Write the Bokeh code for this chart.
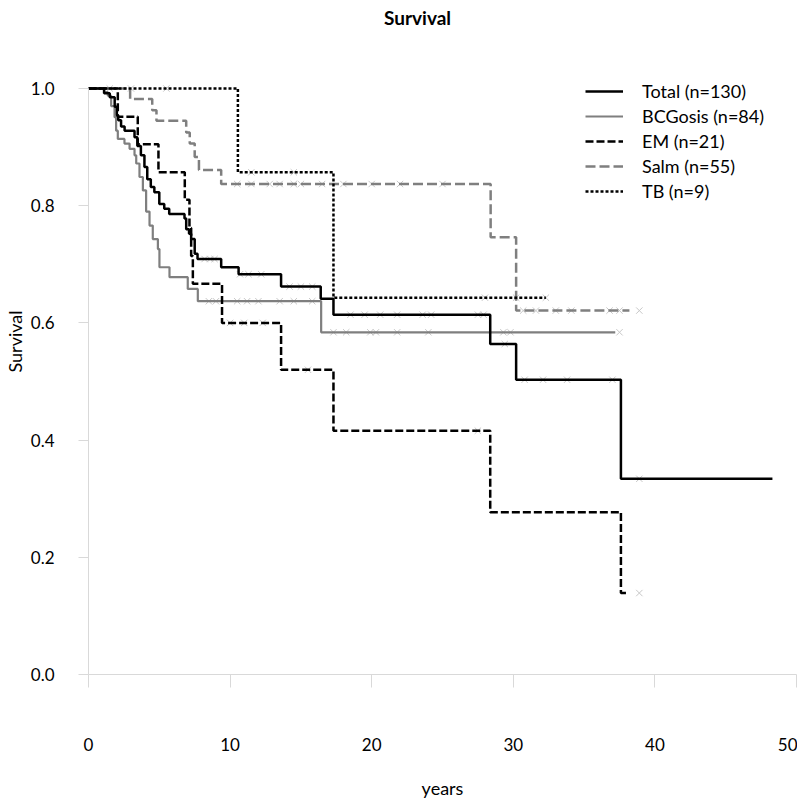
import numpy as np
from bokeh.plotting import figure
from bokeh.models import Range1d, FixedTicker, NumeralTickFormatter, Legend, LegendItem, Label
from bokeh.embed import file_html
from bokeh.resources import INLINE

FONT = "Lato"

# ---- data (years, survival) ----
series_names = ["Total (n=130)", "BCGosis (n=84)", "EM (n=21)", "Salm (n=55)", "TB (n=9)"]

total_t = [1.1, 1.5, 1.85, 2.0, 2.1, 2.3, 2.55, 3.25, 3.45, 3.7, 3.95, 4.15, 4.4, 4.65, 5.0, 5.35,
           5.7, 6.78, 6.9, 7.1, 7.25, 7.5, 7.7, 9.37, 10.6, 13.6, 16.4, 17.3, 28.37, 30.2, 37.6]
total_s = [0.992, 0.985, 0.969, 0.954, 0.946, 0.935, 0.928, 0.917, 0.902, 0.886, 0.866, 0.845, 0.832,
           0.823, 0.803, 0.795, 0.786, 0.778, 0.760, 0.752, 0.743, 0.718, 0.709, 0.695, 0.683, 0.662,
           0.641, 0.614, 0.564, 0.503, 0.334]
total_end = 48.3
total_cens = [8.2, 8.6, 8.9, 10.7, 11.3, 12.2, 14.2, 15.0, 15.8, 18.5, 19.5, 20.6, 21.8, 23.6, 24.2,
              27.5, 27.9, 29.4, 30.8, 32.1, 33.8, 37.0, 38.9]

bcg_t = [1.1, 1.36, 1.6, 1.84, 1.95, 2.07, 2.54, 2.9, 3.25, 3.37, 3.6, 3.84, 4.07, 4.31, 4.54, 4.9,
         5.01, 5.72, 7.01, 7.72, 16.43]
bcg_s = [0.994, 0.988, 0.970, 0.951, 0.928, 0.914, 0.906, 0.897, 0.886, 0.872, 0.849, 0.826, 0.790,
         0.766, 0.743, 0.726, 0.695, 0.678, 0.658, 0.637, 0.584]
bcg_end = 37.2
bcg_cens = [8.5, 9.0, 10.5, 11.2, 12.0, 13.5, 14.5, 15.8, 17.3, 18.2, 19.9, 20.3, 21.8, 24.0, 29.3,
            29.8, 37.5]

em_t = [2.07, 3.48, 4.94, 6.8, 7.13, 7.25, 7.37, 9.43, 13.6, 17.3, 28.37, 37.6]
em_s = [0.952, 0.905, 0.857, 0.810, 0.762, 0.714, 0.667, 0.600, 0.520, 0.416, 0.277, 0.139]
em_end = 38.1
em_cens = [10.0, 11.0, 12.3, 15.5, 27.5, 38.9]

salm_t = [2.94, 4.5, 4.8, 6.9, 7.15, 7.5, 7.8, 9.37, 28.4, 30.2]
salm_s = [0.982, 0.963, 0.945, 0.925, 0.906, 0.883, 0.861, 0.837, 0.746, 0.621]
salm_end = 38.2
salm_cens = [1.5, 10.5, 11.5, 12.8, 13.5, 14.5, 15.0, 16.5, 18.0, 20.0, 22.0, 25.0, 30.7, 31.6,
             33.0, 34.1, 36.8, 37.5, 38.9]

tb_t = [10.55, 17.3]
tb_s = [0.857, 0.643]
tb_end = 32.3
tb_cens = [3.0, 5.5, 11.5, 14.5, 28.0, 30.2, 32.3]

x_ticks = [0, 10, 20, 30, 40, 50]
y_ticks = [0.0, 0.2, 0.4, 0.6, 0.8, 1.0]


def step_xy(t, s, end):
    xs = [0.0] + list(t) + [end]
    ys = [1.0] + list(s) + [s[-1]]
    return xs, ys


def cens_xy(t, s, c):
    ta = np.array([0.0] + list(t))
    sa = np.array([1.0] + list(s))
    idx = np.searchsorted(ta, np.array(c), side="right") - 1
    return list(c), list(sa[idx])


PX_PER_UNIT_Y = 586
FRAME_H = 666
p = figure(frame_width=708, frame_height=FRAME_H, output_backend="svg", toolbar_location=None,
           x_range=Range1d(0, 50), y_range=Range1d(0, FRAME_H / PX_PER_UNIT_Y),
           min_border=0, min_border_left=81, min_border_right=1, min_border_top=8,
           min_border_bottom=124)
p.outline_line_color = None
p.xgrid.grid_line_color = None
p.ygrid.grid_line_color = None
p.background_fill_color = "white"
p.border_fill_color = "white"

# axes
for ax in (p.xaxis[0], p.yaxis[0]):
    ax.axis_line_color = "#d9d9d9"
    ax.major_tick_line_color = "#d9d9d9"
    ax.minor_tick_line_color = None
    ax.major_tick_in = 0
    ax.major_label_text_font = FONT
    ax.major_label_text_font_size = "17px"
    ax.major_label_text_color = "black"
    ax.axis_label_text_font = FONT
    ax.axis_label_text_font_size = "18px"
    ax.axis_label_text_font_style = "normal"
    ax.axis_label_text_color = "black"

p.xaxis.ticker = FixedTicker(ticks=x_ticks)
p.xaxis.major_tick_out = 13
p.xaxis.major_label_standoff = 50
p.xaxis.axis_label = "years"
p.xaxis.axis_label_standoff = 23

p.yaxis.ticker = FixedTicker(ticks=y_ticks)
p.yaxis.bounds = (0, 1)
p.yaxis.formatter = NumeralTickFormatter(format="0.0")
p.yaxis.major_tick_out = 10
p.yaxis.major_label_standoff = 24
p.yaxis.axis_label = "Survival"
p.yaxis.axis_label_standoff = 2

# title (inside the extended frame area, above y = 1.0)
p.add_layout(Label(x=329, y=657, x_units="screen", y_units="screen", text="Survival",
                   text_align="center", text_baseline="middle", text_font=FONT,
                   text_font_size="19px", text_font_style="bold", text_color="black"))

# censor marks
for (tt, ss, cc) in [(bcg_t, bcg_s, bcg_cens), (salm_t, salm_s, salm_cens), (tb_t, tb_s, tb_cens),
                     (em_t, em_s, em_cens), (total_t, total_s, total_cens)]:
    cx, cy = cens_xy(tt, ss, cc)
    p.scatter(cx, cy, marker="x", size=9, line_color="#c8c8c8", line_width=1)

styles = [
    dict(color="black", width=2.5, dash="solid"),
    dict(color="#7f7f7f", width=2.2, dash="solid"),
    dict(color="black", width=2.5, dash="8 3"),
    dict(color="#7f7f7f", width=2.5, dash="10 4"),
    dict(color="black", width=2.5, dash="3 2"),
]
data = [(total_t, total_s, total_end), (bcg_t, bcg_s, bcg_end), (em_t, em_s, em_end),
        (salm_t, salm_s, salm_end), (tb_t, tb_s, tb_end)]

renderers = {}
for i in [1, 3, 4, 2, 0]:
    xs, ys = step_xy(*data[i])
    st = styles[i]
    r = p.step(xs, ys, mode="after", line_color=st["color"], line_width=st["width"],
               line_dash=st["dash"])
    renderers[i] = r

legend = Legend(items=[LegendItem(label=series_names[i], renderers=[renderers[i]]) for i in range(5)],
                location=(497, 472), padding=0, margin=0, spacing=3,
                label_height=20, glyph_height=20, glyph_width=38, label_standoff=19,
                label_text_font=FONT, label_text_font_size="18px", label_text_color="black",
                border_line_color=None, background_fill_alpha=0)
p.add_layout(legend)

open("out.html", "w").write(file_html(p, INLINE))
